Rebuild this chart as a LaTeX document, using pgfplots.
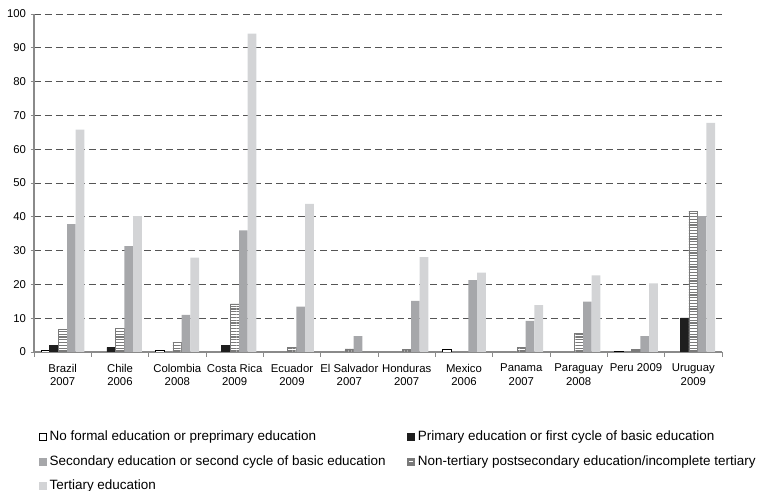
\documentclass[border=0pt]{standalone}
\usepackage{pgfplots}
\pgfplotsset{compat=1.18}
\usepackage{fontspec}
\setmainfont{Liberation Sans}
\usetikzlibrary{patterns.meta}
\definecolor{barblack}{HTML}{1E1E1E}
\definecolor{bargrey}{HTML}{A6A7AA}
\definecolor{barlight}{HTML}{D3D4D6}
\definecolor{stripec}{HTML}{7A7A7A}
\definecolor{axisc}{HTML}{8A8A8A}
\definecolor{gridc}{HTML}{555555}
\pgfplotsset{sq/.style={legend image code/.code={\draw[##1] (0pt,-2.6pt) rectangle (5.3pt,2.6pt);}}}
\begin{document}
\begin{tikzpicture}
\begin{axis}[
  name=ax,
  scale only axis, width=516pt, height=253.5pt,
  xmin=-0.5, xmax=11.5, ymin=0, ymax=100,
  axis x line*=bottom, axis y line*=left,
  axis line style={color=axisc, line width=0.8pt},
  ybar, bar width=0.152,
  xtick={0,...,11},
  xticklabels={Brazil\\2007, Chile\\2006, Colombia\\2008, Costa Rica\\2009, Ecuador\\2009, El Salvador\\2007, Honduras\\2007, Mexico\\2006, Panama\\2007, Paraguay\\2008, Peru 2009, Uruguay\\2009},
  xticklabel style={align=center, font=\fontsize{8.5}{10.2}\selectfont, yshift=-3pt},
  major x tick style={draw=none},
  minor xtick={-0.5,0.5,...,11.5},
  minor tick length=3.5pt,
  minor x tick style={color=axisc, line width=0.7pt},
  ytick={0,10,...,100},
  yticklabel style={font=\fontsize{8.5}{10}\selectfont},
  /pgf/number format/assume math mode=true,
  major y tick style={color=axisc, line width=0.7pt},
  major tick length=2.5pt,
  tick align=outside,
  ymajorgrids,
  major grid style={dash pattern=on 5.25pt off 3pt, color=gridc, line width=0.6pt},
  legend columns=2,
  legend cell align=left,
  legend style={draw=none, fill=none, inner sep=0pt, at={(rel axis cs:0,0)}, anchor=north west,
    xshift=3.5pt, yshift=-57pt, font=\fontsize{10.1}{11.5}\selectfont,
    row sep=5pt,
    nodes={inner sep=2.2pt},
    /tikz/every even column/.append style={column sep=14pt}},
]
% No formal education (white)
\addplot[forget plot, fill=white, draw=black, line width=0.5pt, bar shift=-0.304] coordinates {
 (0,0.6) (2,0.4) (7,0.8) (10,0.3)};
% Primary (black)
\addplot[forget plot, fill=barblack, draw=barblack, line width=0.3pt, bar shift=-0.152] coordinates {
 (0,1.9) (1,1.4) (3,1.9) (11,10.1)};
% Non-tertiary (striped)
\addplot[forget plot, fill=white, draw=stripec, line width=0.5pt, bar shift=0,
  postaction={pattern={Lines[angle=0,distance=2.1pt,line width=0.9pt]}, pattern color=stripec}] coordinates {
 (0,6.8) (1,7.0) (2,2.9) (3,14.2) (4,1.3) (5,0.9) (6,0.8) (8,1.3) (9,5.5) (10,0.8) (11,41.7)};
% Secondary (grey)
\addplot[forget plot, fill=bargrey, draw=none, bar shift=0.152] coordinates {
 (0,37.8) (1,31.3) (2,11.0) (3,36.0) (4,13.4) (5,4.7) (6,15.1) (7,21.3) (8,9.2) (9,14.9) (10,4.7) (11,40.2)};
% Tertiary (light grey)
\addplot[forget plot, fill=barlight, draw=none, bar shift=0.304] coordinates {
 (0,65.8) (1,40.2) (2,27.9) (3,94.2) (4,43.8) (6,28.1) (7,23.5) (8,13.9) (9,22.7) (10,20.3) (11,67.8)};

\addlegendimage{sq, fill=white, draw=black, line width=0.5pt}
\addlegendentry{No formal education or preprimary education}
\addlegendimage{sq, fill=barblack, draw=barblack}
\addlegendentry{Primary education or first cycle of basic education}
\addlegendimage{sq, fill=bargrey, draw=bargrey}
\addlegendentry{Secondary education or second cycle of basic education}
\addlegendimage{legend image code/.code={%
  \draw[fill=stripec, draw=stripec, line width=0.5pt] (0pt,-2.6pt) rectangle (5.3pt,2.6pt);
  \draw[white, line width=0.7pt] (1.1pt,0pt) -- (4.2pt,0pt);}}
\addlegendentry{Non-tertiary postsecondary education/incomplete tertiary}
\addlegendimage{sq, fill=barlight, draw=barlight}
\addlegendentry{Tertiary education}
\end{axis}
\pgfresetboundingbox
\path[use as bounding box] ([xshift=-25.5pt,yshift=-104.25pt]ax.south west) rectangle ([xshift=26.25pt,yshift=10.5pt]ax.north east);
\end{tikzpicture}
\end{document}
